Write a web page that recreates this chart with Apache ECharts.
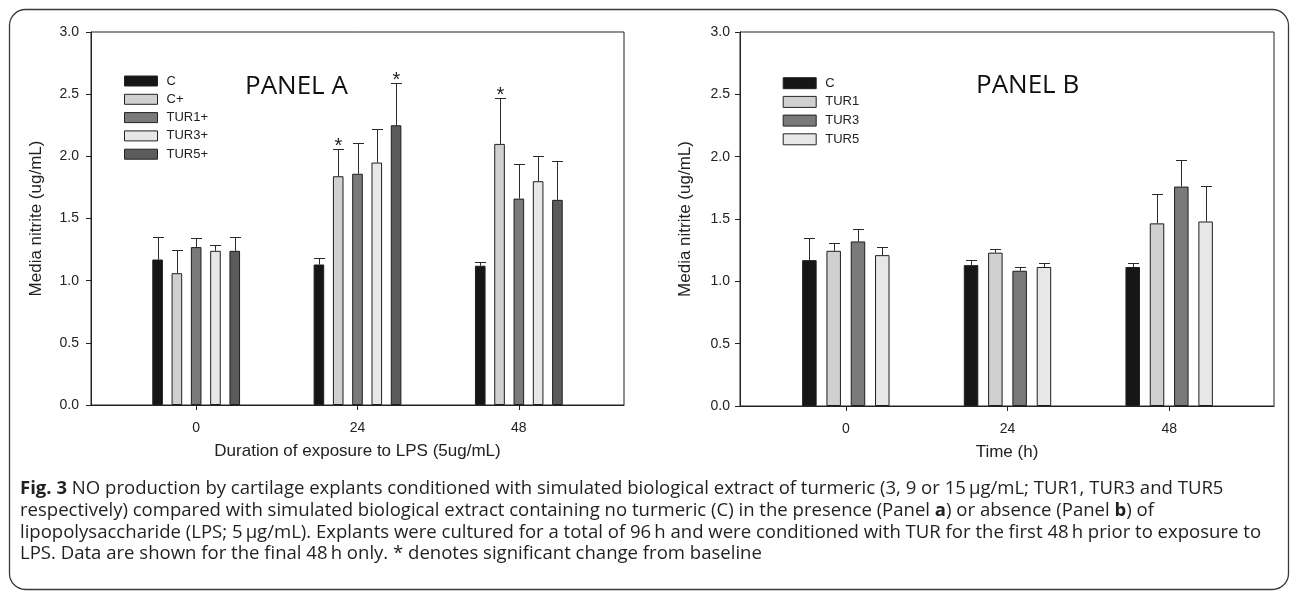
<!DOCTYPE html>
<html>
<head>
<meta charset="utf-8">
<script src="https://cdn.jsdelivr.net/npm/echarts@6/dist/echarts.min.js"></script>
<style>
  html, body { margin: 0; padding: 0; background: #fff; }
  #main { width: 1292px; height: 592px; }
</style>
</head>
<body>
<div id="main"></div>
<script>
var hours = ['0', '24', '48'];

// Panel A: with LPS (mean and error per series, per hour)
var namesA = ['C', 'C+', 'TUR1+', 'TUR3+', 'TUR5+'];
var meansA = [
  [1.17, 1.13, 1.12],
  [1.06, 1.84, 2.10],
  [1.27, 1.86, 1.66],
  [1.24, 1.95, 1.80],
  [1.24, 2.25, 1.65]
];
var errorsA = [
  [0.18, 0.05, 0.03],
  [0.19, 0.22, 0.37],
  [0.07, 0.25, 0.28],
  [0.05, 0.27, 0.20],
  [0.11, 0.34, 0.31]
];
// [series, hour] marked with *
var starsA = [[1, 1], [4, 1], [1, 2]];

// Panel B: no LPS
var namesB = ['C', 'TUR1', 'TUR3', 'TUR5'];
var meansB = [
  [1.17, 1.13, 1.115],
  [1.245, 1.23, 1.465],
  [1.32, 1.085, 1.76],
  [1.21, 1.115, 1.48]
];
var errorsB = [
  [0.18, 0.045, 0.03],
  [0.065, 0.03, 0.235],
  [0.10, 0.03, 0.215],
  [0.065, 0.035, 0.285]
];
var starsB = [];

var captionLines = [
  '{b|Fig. 3} NO production by cartilage explants conditioned with simulated biological extract of turmeric (3, 9 or 15\u2009\u03bcg/mL; TUR1, TUR3 and TUR5',
  'respectively) compared with simulated biological extract containing no turmeric (C) in the presence (Panel {b|a}) or absence (Panel {b|b}) of',
  'lipopolysaccharide (LPS; 5\u2009\u03bcg/mL). Explants were cultured for a total of 96\u2009h and were conditioned with TUR for the first 48\u2009h prior to exposure to',
  'LPS. Data are shown for the final 48\u2009h only. * denotes significant change from baseline'
];

var colorsA = ['#161616', '#d0d0d0', '#7a7a7a', '#e7e7e7', '#5b5b5b'];
var colorsB = ['#161616', '#d0d0d0', '#7a7a7a', '#e7e7e7'];
var FONT = '"Liberation Sans", Arial, sans-serif';
var INK = '#222';

// fit caption size to the reference line width
var ctx = document.createElement('canvas').getContext('2d');
ctx.font = '15px "Open Sans"';
var capX = 20;
var capSize = 15 * (1262 - capX) / ctx.measureText(captionLines[2]).width;

function bars(names, means, colors, axis, bw, gap) {
    return names.map(function (n, i) {
        return {
            name: n,
            type: 'bar',
            xAxisIndex: axis,
            yAxisIndex: axis,
            barWidth: bw,
            barGap: gap,
            itemStyle: {color: colors[i], borderColor: '#1e1e1e', borderWidth: 1},
            data: means[i]
        };
    });
}

function errorBars(means, errors, stars, axis, step) {
    var data = [];
    var n = means.length;
    for (var s = 0; s < n; s++) {
        for (var h = 0; h < means[s].length; h++) {
            var star = stars.some(function (p) { return p[0] === s && p[1] === h; }) ? 1 : 0;
            data.push([h, means[s][h] + errors[s][h], means[s][h], s, star]);
        }
    }
    return {
        type: 'custom',
        xAxisIndex: axis,
        yAxisIndex: axis,
        z: 5,
        silent: true,
        clip: false,
        encode: {x: 0, y: 1},
        renderItem: function (params, api) {
            var dx = (api.value(3) - (n - 1) / 2) * step;
            var top = api.coord([api.value(0), api.value(1)]);
            var base = api.coord([api.value(0), api.value(2)]);
            var x = Math.round(top[0] + dx) + 0.5;
            var y = Math.round(top[1]) + 0.5;
            var st = {stroke: '#2a2a2a', lineWidth: 1};
            var kids = [
                {type: 'line', shape: {x1: x, y1: base[1], x2: x, y2: y}, style: st},
                {type: 'line', shape: {x1: x - 5.5, y1: y, x2: x + 5.5, y2: y}, style: st}
            ];
            if (api.value(4)) {
                kids.push({
                    type: 'text', x: x, y: y - 3,
                    style: {text: '*', fontSize: 20, fontFamily: FONT, fill: INK, align: 'center', verticalAlign: 'middle'}
                });
            }
            return {type: 'group', children: kids};
        },
        data: data
    };
}

function frameX(grid, title) {
    return {
        gridIndex: grid, type: 'value', min: 0, max: 1,
        axisLine: {show: true, onZero: false, lineStyle: {color: INK, width: 1}},
        axisTick: {show: false}, axisLabel: {show: false}, splitLine: {show: false},
        name: title, nameLocation: 'middle', nameGap: 38,
        nameTextStyle: {fontSize: 17, color: INK, fontFamily: FONT}
    };
}
function dataX(grid) {
    return {
        gridIndex: grid, type: 'category', data: hours,
        axisLine: {show: false},
        axisTick: {show: true, alignWithLabel: true, length: 5, lineStyle: {color: INK}},
        axisLabel: {fontSize: 14, margin: 16, color: INK, fontFamily: FONT},
        splitLine: {show: false}
    };
}
function frameY(grid, margin) {
    return {
        gridIndex: grid, type: 'value', min: 0, max: 3, interval: 0.5,
        axisLine: {show: true, onZero: false, lineStyle: {color: INK, width: 1}},
        axisTick: {show: true, length: 5, lineStyle: {color: INK}},
        axisLabel: {fontSize: 14, margin: margin, color: INK, fontFamily: FONT,
            formatter: function (v) { return v.toFixed(1); }},
        splitLine: {show: false},
        name: 'Media nitrite (ug/mL)', nameLocation: 'middle', nameGap: 46,
        nameTextStyle: {fontSize: 17, color: INK, fontFamily: FONT}
    };
}
function dataY(grid) {
    return {gridIndex: grid, type: 'value', min: 0, max: 3, show: false};
}
function legend(names, left, top, h, gap) {
    return {
        data: names, orient: 'vertical', left: left, top: top, padding: 0,
        itemWidth: 33, itemHeight: h, itemGap: gap, icon: 'rect', selectedMode: false,
        itemStyle: {borderColor: '#222', borderWidth: 1},
        textStyle: {fontSize: 13, color: INK, fontFamily: FONT, padding: [0, 0, 0, 4]}
    };
}

var myChart = echarts.init(document.getElementById('main'), null, {renderer: 'canvas'});

var graphics = [
    {
        type: 'rect', shape: {x: 9.5, y: 9.5, width: 1279, height: 580, r: 16},
        style: {fill: 'none', stroke: '#3a3a3a', lineWidth: 1.3}, silent: true
    },
    {
        type: 'text', left: 245, top: 74,
        style: {text: 'PANEL A', fontSize: 26, fontFamily: '"Open Sans"', fill: '#111'}
    },
    {
        type: 'text', left: 976, top: 73,
        style: {text: 'PANEL B', fontSize: 26, fontFamily: '"Open Sans"', fill: '#111'}
    }
];
var capY = [489, 510.7, 532.4, 554.1];
captionLines.forEach(function (line, i) {
    graphics.push({
        type: 'text', x: capX, y: capY[i], silent: true,
        style: {
            text: line, fontSize: capSize, fontFamily: '"Open Sans"', fill: '#231f20',
            verticalAlign: 'middle',
            rich: {b: {fontWeight: 'bold', fontSize: capSize, fontFamily: '"Open Sans"', fill: '#231f20'}}
        }
    });
});

var option = {
    animation: false,
    backgroundColor: '#fff',
    grid: [
        {left: 91, right: 668, top: 32, bottom: 187, show: true, borderColor: INK, borderWidth: 1, outerBoundsMode: 'none'},
        {left: 115.5, right: 692.5, top: 32, bottom: 187, outerBoundsMode: 'none'},
        {left: 740, right: 18, top: 32, bottom: 186, show: true, borderColor: INK, borderWidth: 1, outerBoundsMode: 'none'},
        {left: 765, right: 42, top: 32, bottom: 186, outerBoundsMode: 'none'}
    ],
    xAxis: [frameX(0, 'Duration of exposure to LPS (5ug/mL)'), dataX(1), frameX(2, 'Time (h)'), dataX(3)],
    yAxis: [frameY(0, 12), dataY(1), frameY(2, 10), dataY(3)],
    legend: [legend(namesA, 124, 74.5, 10, 5.3), legend(namesB, 782.7, 76.7, 11, 5.7)],
    graphic: graphics,
    series: [].concat(
        bars(namesA, meansA, colorsA, 1, 10.6, '82%'),
        [errorBars(meansA, errorsA, starsA, 1, 19.3)],
        bars(namesB, meansB, colorsB, 3, 14.5, '67.6%'),
        [errorBars(meansB, errorsB, starsB, 3, 24.3)]
    )
};
myChart.setOption(option);
</script>
</body>
</html>
